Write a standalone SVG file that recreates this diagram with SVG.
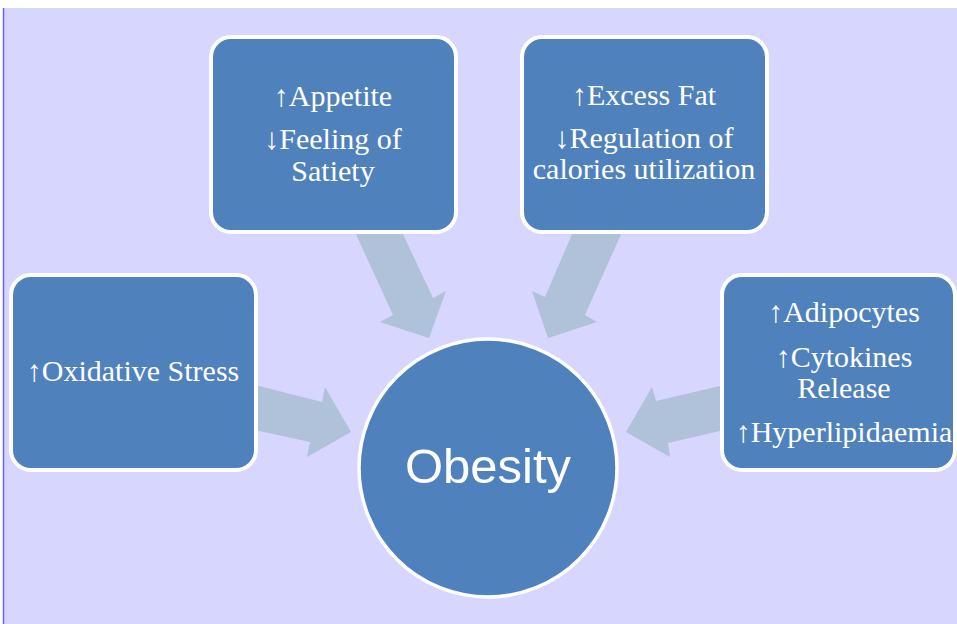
<svg xmlns="http://www.w3.org/2000/svg" width="957" height="624" viewBox="0 0 957 624">
<style>
.box{fill:#4F81BD;stroke:#FFFFFF;stroke-width:4}
.arr{fill:#B0C1DA}
.t{font-family:"Liberation Serif","Times New Roman",serif;font-size:30px;fill:#FFFFFF;text-anchor:middle}
.big{font-family:"Liberation Sans",Arial,sans-serif;font-size:49px;fill:#FFFFFF;text-anchor:middle}
</style>
<rect x="0" y="0" width="957" height="624" fill="#FFFFFF"/>
<rect x="3" y="8" width="954" height="616" fill="#D6D6FE"/>
<line x1="3.5" y1="8" x2="3.5" y2="624" stroke="#6666FF" stroke-width="1.5"/>
<g id="connectors">
<polygon class="arr" points="355,232 402,232 433,298 446,291 429,338 380,322 393,315"/>
<polygon class="arr" points="573,232 622,232 585,315 597,322 548,338 532,291 545,297"/>
<polygon class="arr" points="255,385 322,402 325,387 351,432 307,457 310,442 255,430"/>
<polygon class="arr" points="724,385 656,401 652,387 626,432 670,457 668,443 724,430"/>
</g>
<g id="appetite">
<rect class="box" x="211" y="37" width="245" height="195" rx="20"/>
<text class="t" x="333" y="106">↑Appetite</text>
<text class="t" x="333" y="149">↓Feeling of</text>
<text class="t" x="333" y="181">Satiety</text>
</g>
<g id="excess-fat">
<rect class="box" x="522" y="37" width="245" height="195" rx="20"/>
<text class="t" x="644" y="105">↑Excess Fat</text>
<text class="t" x="644" y="148">↓Regulation of</text>
<text class="t" x="644" y="179">calories utilization</text>
</g>
<g id="oxidative-stress">
<rect class="box" x="11" y="275" width="245" height="195" rx="20"/>
<text class="t" x="133" y="381">↑Oxidative Stress</text>
</g>
<g id="adipocytes">
<rect class="box" x="722" y="275" width="233" height="195" rx="20"/>
<text class="t" x="844" y="322">↑Adipocytes</text>
<text class="t" x="844" y="367">↑Cytokines</text>
<text class="t" x="844" y="398">Release</text>
<text class="t" x="844" y="442">↑Hyperlipidaemia</text>
</g>
<g id="obesity">
<circle cx="488" cy="468" r="129" fill="#4F81BD" stroke="#FFFFFF" stroke-width="3.5"/>
<text class="big" x="488" y="483">Obesity</text>
</g>
</svg>
